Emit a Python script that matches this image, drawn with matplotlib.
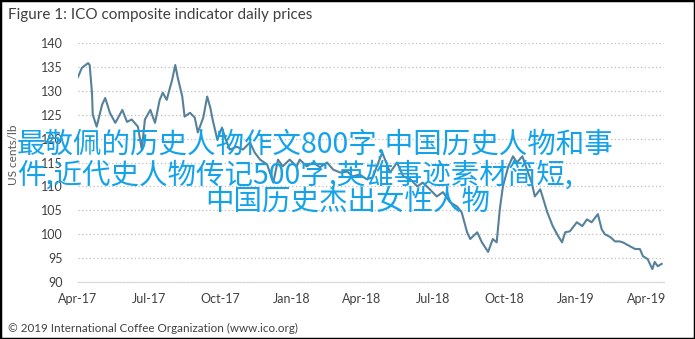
"""
ICO composite indicator daily prices, Apr-2017 to Apr-2019.
Saves out.png.
"""

import matplotlib
matplotlib.use("Agg")
import matplotlib.pyplot as plt
import matplotlib.dates as mdates
import pandas as pd
from matplotlib.patches import Rectangle


START = pd.Timestamp("2017-04-01")

# days after START
day_offset = [
    0, 5, 13, 15, 18, 19, 24, 31, 35, 41, 48, 57, 63, 69, 77, 82, 86, 93, 99,
    105, 109, 114, 121, 125, 128, 134, 137, 144, 150, 154, 161, 166, 170, 173,
    179, 185, 189, 195, 204, 212, 221, 227, 234, 243, 251, 257, 263, 272, 281,
    285, 294, 302, 311, 320, 328, 337, 346, 353, 362, 371, 379, 384, 391, 401,
    410, 418, 427, 436, 443, 452, 461, 469, 478, 487, 493, 500, 504, 513, 519,
    527, 533, 538, 542, 546, 553, 559, 564, 571, 577, 583, 587, 594, 598, 603,
    610, 617, 622, 626, 632, 641, 648, 654, 660, 668, 673, 677, 684, 690, 696,
    700, 709, 716, 722, 726, 732, 738, 741, 745, 750,
]

# US cents/lb
price = [
    132.9, 134.8, 135.8, 135.4, 129.6, 125.0, 122.5, 127.1, 128.5, 125.4,
    123.3, 126.0, 123.5, 124.0, 122.5, 117.7, 124.0, 126.0, 123.3, 128.1,
    129.6, 128.1, 132.3, 135.4, 132.9, 128.8, 124.6, 125.4, 124.4, 121.3,
    124.4, 128.8, 126.5, 124.0, 119.8, 122.3, 120.2, 117.7, 118.3, 117.7,
    119.2, 117.1, 115.6, 114.6, 110.8, 115.6, 114.2, 115.6, 114.2, 115.6,
    114.2, 115.0, 114.0, 115.0, 113.5, 112.9, 113.1, 112.1, 112.5, 111.5,
    111.9, 114.2, 117.1, 112.9, 115.0, 112.1, 111.5, 110.0, 110.8, 109.4,
    107.9, 108.8, 106.7, 105.8, 104.6, 100.4, 99.0, 100.4, 98.3, 96.3,
    99.0, 98.3, 105.2, 110.0, 114.2, 116.3, 115.0, 116.3, 113.5, 110.8,
    107.9, 109.4, 107.3, 104.6, 101.7, 99.6, 98.3, 100.4, 100.6, 102.5,
    101.7, 103.1, 102.5, 104.2, 101.0, 100.0, 99.4, 98.5, 98.5, 98.3,
    97.5, 96.9, 96.9, 95.4, 94.8, 92.7, 94.2, 93.3, 93.8,
]

tick_dates = pd.date_range("2017-04-01", "2019-04-01", freq="QS-APR")
y_ticks = list(range(90, 141, 5))

TITLE = "Figure 1: ICO composite indicator daily prices"
Y_LABEL = "US cents/lb"
SOURCE = "\u00a9 2019 International Coffee Organization (www.ico.org)"
OVERLAY = [
    "最敬佩的历史人物作文800字,中国历史人物和事",
    "件,近代史人物传记500字,英雄事迹素材简短,",
    "中国历史杰出女性人物",
]

dates = START + pd.to_timedelta(day_offset, unit="D")

fig = plt.figure(figsize=(6.95, 3.39), dpi=100)
ax = fig.add_axes([0.1122, 0.1681, 0.8432, 0.7050])

ax.plot(dates, price, color="#56819A", linewidth=1.5)

ax.set_ylim(90, 140)
ax.set_xlim(START, START + pd.Timedelta(days=753))
ax.set_yticks(y_ticks)
ax.set_xticks(tick_dates)
ax.xaxis.set_major_formatter(mdates.DateFormatter("%b-%y"))

ax.grid(axis="y", linestyle=(0, (1, 2)), color="#BFBFBF", linewidth=0.9)
for side in ("top", "right", "left"):
    ax.spines[side].set_visible(False)
ax.spines["bottom"].set_color("#D9D9D9")
ax.tick_params(length=0, labelsize=9, labelcolor="#404040")
ax.tick_params(axis="y", pad=11)
ax.tick_params(axis="x", pad=8)
for lbl in ax.get_xticklabels() + ax.get_yticklabels():
    lbl.set_fontfamily("Lato")

fig.text(0.012, 0.955, TITLE, fontsize=11, family="Lato",
         color="#404040", va="center")
fig.text(0.019, 0.543, Y_LABEL, fontsize=8.5, family="Lato", color="#595959",
         rotation=90, va="center", ha="center")
fig.text(0.012, 0.03, SOURCE, fontsize=8.4, family="Lato",
         color="#404040", va="center")

# watermark text laid over the chart
overlay_pos = [(0.024, 0.573), (0.024, 0.483), (0.295, 0.404)]
for (x, y), line in zip(overlay_pos, OVERLAY):
    fig.text(x, y, line, fontsize=20.5, color="#14A3E9", va="center",
             family=["Noto Sans CJK SC", "DejaVu Sans"])

fig.patches.append(Rectangle((0, 0), 1, 1, transform=fig.transFigure,
                             fill=False, edgecolor="black", linewidth=2.5))

fig.savefig("out.png", dpi=100)
